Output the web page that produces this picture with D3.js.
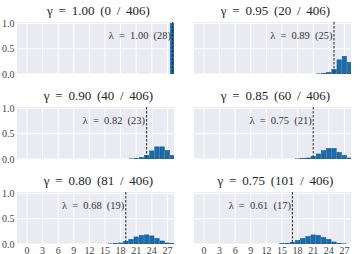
<!DOCTYPE html>
<html>
<head>
<meta charset="utf-8">
<script src="https://cdn.jsdelivr.net/npm/d3@7"></script>
</head>
<body style="margin:0;background:#fff">
<div id="chart"></div>
<script>
// data
var bins = [0,1,2,3,4,5,6,7,8,9,10,11,12,13,14,15,16,17,18,19,20,21,22,23,24,25,26,27,28];
var xTicks = [0,3,6,9,12,15,18,21,24,27];
var yTicks = [0.0,0.5,1.0];
var gammas = ["1.00","0.95","0.90","0.85","0.80","0.75"];
var counts = [0,20,40,60,81,101];
var total = 406;
var lambdas = ["1.00","0.89","0.82","0.75","0.68","0.61"];
var lambdaIdx = [28,25,23,21,19,17];

var freq100 = [0,0,0,0,0,0,0,0,0,0,0,0,0,0,0,0,0,0,0,0,0,0,0,0,0,0,0,0,1.0];
var freq095 = [0,0,0,0,0,0,0,0,0,0,0,0,0,0,0,0,0,0,0,0,0,0,0.003,0.01,0.03,0.09,0.28,0.35,0.23];
var freq090 = [0,0,0,0,0,0,0,0,0,0,0,0,0,0,0,0,0,0,0,0,0.003,0.01,0.03,0.07,0.16,0.24,0.24,0.17,0.07];
var freq085 = [0,0,0,0,0,0,0,0,0,0,0,0,0,0,0,0,0,0,0.003,0.008,0.02,0.05,0.10,0.165,0.21,0.21,0.13,0.07,0.02];
var freq080 = [0,0,0,0,0,0,0,0,0,0,0,0,0,0,0,0,0.003,0.01,0.02,0.05,0.09,0.14,0.17,0.18,0.16,0.11,0.06,0.02,0.005];
var freq075 = [0,0,0,0,0,0,0,0,0,0,0,0,0,0,0,0.005,0.015,0.035,0.07,0.11,0.15,0.18,0.17,0.13,0.09,0.04,0.015,0.004,0];
var freqs = [freq100, freq095, freq090, freq085, freq080, freq075];

var W = 361, H = 254;
var plotW = 157, plotH = 52;
var colX = [17, 194];
var rowY = [22, 107, 192];
var serif = "'Liberation Serif'";

var svg = d3.select("#chart").append("svg")
    .attr("width", W)
    .attr("height", H)
    .style("display", "block");

var x = d3.scaleLinear().domain([-1.92, 28.27]).range([0, plotW]);
var y = d3.scaleLinear().domain([0, 1.03]).range([plotH, 0]);
var barW = x(0.85) - x(0);

function drawPanel(i){
    var col = i % 2, row = Math.floor(i / 2);
    var g = svg.append("g")
        .attr("transform", "translate(" + colX[col] + "," + rowY[row] + ")");

    g.append("clipPath").attr("id", "clip" + i)
      .append("rect").attr("width", plotW).attr("height", plotH);

    g.append("rect")
        .attr("width", plotW)
        .attr("height", plotH)
        .attr("fill", "#eaeaf2");

    g.selectAll(".vgrid").data(xTicks).enter().append("line")
        .attr("x1", function(d){ return x(d); })
        .attr("x2", function(d){ return x(d); })
        .attr("y1", 0).attr("y2", plotH)
        .attr("stroke", "#fff").attr("stroke-width", 1);
    g.selectAll(".hgrid").data(yTicks).enter().append("line")
        .attr("x1", 0).attr("x2", plotW)
        .attr("y1", function(d){ return y(d); })
        .attr("y2", function(d){ return y(d); })
        .attr("stroke", "#fff").attr("stroke-width", 1);

    var data = bins.map(function(b, j){ return {k: b, v: freqs[i][j]}; })
        .filter(function(d){ return d.v > 0; });

    g.append("g").attr("clip-path", "url(#clip" + i + ")")
      .selectAll("rect").data(data).enter().append("rect")
        .attr("x", function(d){ return x(d.k) - barW / 2; })
        .attr("width", barW)
        .attr("y", function(d){ return y(d.v); })
        .attr("height", function(d){ return y(0) - y(d.v); })
        .attr("fill", "#1b6ca8")
        .attr("stroke", "#0f4e80")
        .attr("stroke-width", 0.5);

    var lx = x(lambdaIdx[i]);
    g.append("line")
        .attr("x1", lx).attr("x2", lx)
        .attr("y1", 0).attr("y2", plotH)
        .attr("stroke", "#262626")
        .attr("stroke-width", 1)
        .attr("stroke-dasharray", "2.5,1.5");

    g.append("text")
        .attr("x", lx - 1.5)
        .attr("y", y(0.77))
        .attr("text-anchor", "end")
        .attr("dominant-baseline", "central")
        .style("font-family", serif)
        .style("font-size", "10.5px")
        .style("word-spacing", "2.5px")
        .attr("fill", "#333")
        .text("\u03bb = " + lambdas[i] + " (" + lambdaIdx[i] + ")");

    svg.append("text")
        .attr("x", colX[col] + plotW / 2 + 3)
        .attr("y", rowY[row] - 12)
        .attr("text-anchor", "middle")
        .attr("dominant-baseline", "central")
        .style("font-family", serif)
        .style("font-size", "13px")
        .style("word-spacing", "2.5px")
        .attr("fill", "#262626")
        .text("\u03b3 = " + gammas[i] + " (" + counts[i] + " / " + total + ")");

    if (col == 0){
        g.selectAll(".ytick").data(yTicks).enter().append("text")
            .attr("x", -2.5)
            .attr("y", function(d){ return y(d); })
            .attr("text-anchor", "end")
            .attr("dominant-baseline", "central")
            .style("font-family", serif)
            .style("font-size", "10px")
            .attr("fill", "#444")
            .text(function(d){ return d3.format(".1f")(d); });
    }
    if (row == 2){
        g.selectAll(".xtick").data(xTicks).enter().append("text")
            .attr("x", function(d){ return x(d); })
            .attr("y", plotH + 6)
            .attr("text-anchor", "middle")
            .attr("dominant-baseline", "central")
            .style("font-family", serif)
            .style("font-size", "10px")
            .attr("fill", "#444")
            .text(function(d){ return d; });
    }
}

for (var i = 0; i < 6; i++) drawPanel(i);
</script>
</body>
</html>
